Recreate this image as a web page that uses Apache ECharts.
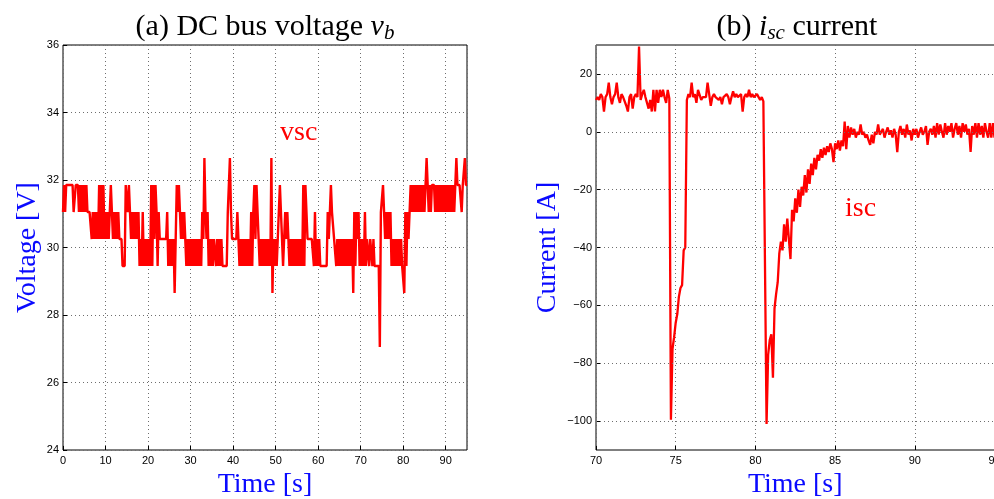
<!DOCTYPE html>
<html><head><meta charset="utf-8">
<script src="https://cdn.jsdelivr.net/npm/echarts@6/dist/echarts.min.js"></script>
<style>html,body{margin:0;padding:0;background:#fff}#c{width:994px;height:499px}</style>
</head><body><div id="c"></div>
<script>
// ---------- Panel (a): DC bus voltage, sampled every 0.25 s from t = 0 ----------
const vscStart = 0;
const vscStep = 0.25;
// quantised voltage levels [V]
const vscLevels = [27.05, 27.85, 28.65, 29.45, 30.25, 31.05, 31.85, 32.65];
// level index per sample, 20 samples (5 s) per string
const vscCodes = [
  "56566666665566656565", // 0-5 s
  "65655554545454646464", // 5-10
  "54545654545454443336", // 10-15
  "65654545454534353434", // 15-20
  "34363646535444444453", // 20-25
  "43434246565454543434", // 25-30
  "34343434343547545343", // 30-35
  "43443434343333355754", // 35-40
  "44445434343434343535", // 40-45
  "64654343434343437243", // 45-50
  "43456543354543434343", // 50-55
  "43434363654444443534", // 55-60
  "34333333354565544343", // 60-65
  "43434343434342535453", // 65-70
  "43435344344343333305", // 70-75
  "56545454534343434343", // 75-80
  "32535446565656565656", // 80-85
  "56765656665656565656", // 85-90
  "56565656567666656676", // 90-95
  "6"                     // 95
];
const vscYTicks = [24, 26, 28, 30, 32, 34, 36];
const vscXTicks = [0, 10, 20, 30, 40, 50, 60, 70, 80, 90];

// ---------- Panel (b): supercapacitor current, sampled every 0.1 s from t = 70 ----------
const iscStart = 70;
const iscStep = 0.1;
const iscRows = [
  [11, 12, 11, 13, 12, 7, 12, 13, 17, 12],            // 70
  [9.5, 12, 13, 17, 12, 10, 13, 12, 12, 9],           // 71
  [7, 12, 13, 8, 12, 13, 12, 29.5, 11, 13],           // 72
  [14.5, 12, 12, 8, 11, 7, 14.5, 7, 14.5, 10],        // 73
  [14.5, 12, 14.5, 12, 10, 14.5, 11.5, -99.5, -75, -71], // 74
  [-66, -63, -57, -54, -53, -41, -40, 11, 13, 12],    // 75
  [17, 12, 13, 10, 14.5, 14.5, 11, 12, 12, 12],       // 76
  [17, 13, 9, 12, 13, 12, 12, 11, 12, 9.5],           // 77
  [12, 12, 13, 12, 9.5, 12, 14, 12, 13, 12],          // 78
  [12, 13, 7, 12, 13, 12, 14.5, 12, 13, 12],          // 79
  [12, 13, 12, 11, 12, 10.5, 10, -101, -77, -72],     // 80
  [-70, -85, -61, -56, -52, -42, -38, -41, -32, -38], // 81
  [-30, -37, -44, -27, -31, -23, -28, -20, -26, -19], // 82
  [-22, -15, -21, -13, -18, -11, -15, -9, -13, -8],   // 83
  [-10, -6, -9, -5.5, -8, -5, -7, -4, -6, -10.5],     // 84
  [-4, -6, -3, -6.5, -3, -5, 3.5, -6, 2, -2],         // 85
  [1.5, -1, 1, -2, 0, -1, 2.5, -1, 0, -2],            // 86
  [-1, -3, -4.5, -1, -4, 0, -1, 2.5, -1, 0],          // 87
  [1, -2, 0, 1.5, -1, 0.5, -2, 1, -1, -7],            // 88
  [0, 2, -1, 1, -2, 2.5, -1, 0.5, -3, 1],             // 89
  [-1, 1, -2, 0, 1.5, -1, 0, 2, -4.5, 0],             // 90
  [1, -1, 2, -2, 3, -1, 2.5, 0, -2, 3],               // 91
  [-1, 2, 0, 3, -2, 1, 3, -1, 2, -2],                 // 92
  [3, 0, 2.5, -1, 1, -7, 2, -1, 3, -2],               // 93
  [3, -1, 2, -2, 3, 0, -2, 3, -2, 3],                 // 94
  [-2]                                                // 95
];
const iscYTicks = [-100, -80, -60, -40, -20, 0, 20];
const iscXTicks = [70, 75, 80, 85, 90, 95];

// ---------- build series data ----------
const vscData = [];
vscCodes.join('').split('').forEach((c, i) => {
  vscData.push([+(vscStart + i * vscStep).toFixed(2), vscLevels[+c]]);
});
const iscData = [];
iscRows.flat().forEach((v, i) => {
  iscData.push([+(iscStart + i * iscStep).toFixed(2), v]);
});

const serif = '"Liberation Serif", "Times New Roman", serif';
const sans = '"Liberation Sans", Arial, sans-serif';
const BLUE = '#0a0aff';
const RED = '#ff0000';
const gridLine = { show: true, lineStyle: { type: [1, 3], color: '#6e6e6e', width: 1 } };
const fmt = v => (v < 0 ? '\u2212' + Math.abs(v) : String(v));
const tickLabel = { fontFamily: sans, fontSize: 11, color: '#000', margin: 5 };
const tick = { show: true, inside: true, length: 4, lineStyle: { color: '#000' } };

const titleStyle = {
  fontFamily: serif, fontSize: 30, fontWeight: 'normal', color: '#000', lineHeight: 34,
  rich: {
    i: { fontFamily: serif, fontSize: 30, fontStyle: 'italic', color: '#000', lineHeight: 34 },
    sub: { fontFamily: serif, fontSize: 21, fontStyle: 'italic', color: '#000', lineHeight: 22, verticalAlign: 'bottom' }
  }
};

const chart = echarts.init(document.getElementById('c'), null, { renderer: 'canvas' });
chart.setOption({
  animation: false,
  backgroundColor: '#fff',
  title: [
    { text: '(a) DC bus voltage {i|v}{sub|b}', left: 265, top: 10, textAlign: 'center', padding: 0, textStyle: titleStyle },
    { text: '(b) {i|i}{sub|sc} current', left: 797, top: 10, textAlign: 'center', padding: 0, textStyle: titleStyle }
  ],
  grid: [
    { left: 63, top: 45, width: 404, height: 405, show: true, borderColor: '#000', borderWidth: 1,
      backgroundColor: 'transparent', containLabel: false, outerBoundsMode: 'none' },
    { left: 596, top: 45, width: 398.5, height: 405, show: true, borderColor: '#000', borderWidth: 1,
      backgroundColor: 'transparent', containLabel: false, outerBoundsMode: 'none' }
  ],
  xAxis: [
    {
      gridIndex: 0, type: 'value', min: 0, max: 95, interval: 10,
      axisLine: { show: false, onZero: false },
      axisTick: tick,
      axisLabel: Object.assign({}, tickLabel, { showMaxLabel: false, formatter: v => (vscXTicks.indexOf(v) >= 0 ? fmt(v) : '') }),
      splitLine: gridLine,
      name: 'Time [s]', nameLocation: 'middle', nameGap: 21,
      nameTextStyle: { fontFamily: serif, fontSize: 28, color: BLUE }
    },
    {
      gridIndex: 1, type: 'value', min: 70, max: 95, interval: 5,
      axisLine: { show: false, onZero: false },
      axisTick: tick,
      axisLabel: Object.assign({}, tickLabel, { showMaxLabel: true, showMinLabel: true, hideOverlap: false, formatter: v => (iscXTicks.indexOf(v) >= 0 ? fmt(v) : '') }),
      splitLine: gridLine,
      name: 'Time [s]', nameLocation: 'middle', nameGap: 21,
      nameTextStyle: { fontFamily: serif, fontSize: 28, color: BLUE }
    }
  ],
  yAxis: [
    {
      gridIndex: 0, type: 'value', min: 24, max: 36, interval: 2,
      axisLine: { show: false, onZero: false },
      axisTick: tick,
      axisLabel: Object.assign({}, tickLabel, { margin: 4, formatter: v => (vscYTicks.indexOf(v) >= 0 ? fmt(v) : '') }),
      splitLine: gridLine,
      name: 'Voltage [V]', nameLocation: 'middle', nameGap: 21, nameRotate: 90,
      nameTextStyle: { fontFamily: serif, fontSize: 28, color: BLUE }
    },
    {
      gridIndex: 1, type: 'value', min: -110, max: 30, interval: 10,
      axisLine: { show: false, onZero: false },
      axisTick: Object.assign({}, tick, { customValues: iscYTicks }),
      axisLabel: Object.assign({}, tickLabel, { margin: 4, customValues: iscYTicks, formatter: v => (iscYTicks.indexOf(v) >= 0 ? fmt(v) : '') }),
      splitLine: { show: false },
      name: 'Current [A]', nameLocation: 'middle', nameGap: 34, nameRotate: 90,
      nameTextStyle: { fontFamily: serif, fontSize: 28, color: BLUE }
    }
  ],
  series: [
    {
      name: 'vsc', type: 'line', xAxisIndex: 0, yAxisIndex: 0, data: vscData,
      showSymbol: false, symbol: 'none', z: 3, clip: true,
      lineStyle: { color: RED, width: 2.4 }
    },
    {
      name: 'gridlines', type: 'line', xAxisIndex: 1, yAxisIndex: 1, data: [], z: 1, silent: true,
      markLine: {
        silent: true, symbol: ['none', 'none'], label: { show: false }, animation: false,
        lineStyle: { type: [1, 3], color: '#6e6e6e', width: 1 },
        data: iscYTicks.map(v => ({ yAxis: v }))
      }
    },
    {
      name: 'isc', type: 'line', xAxisIndex: 1, yAxisIndex: 1, data: iscData,
      showSymbol: false, symbol: 'none', z: 3, clip: true,
      lineStyle: { color: RED, width: 2.3 }
    }
  ],
  graphic: [
    { type: 'text', x: 280, y: 133, z: 10,
      style: { text: 'vsc', fontFamily: serif, fontSize: 28, fill: RED, align: 'left', verticalAlign: 'middle', textAlign: 'left', textVerticalAlign: 'middle' } },
    { type: 'text', x: 845, y: 209, z: 10,
      style: { text: 'isc', fontFamily: serif, fontSize: 28, fill: RED, align: 'left', verticalAlign: 'middle', textAlign: 'left', textVerticalAlign: 'middle' } }
  ]
});
</script>
</body></html>
